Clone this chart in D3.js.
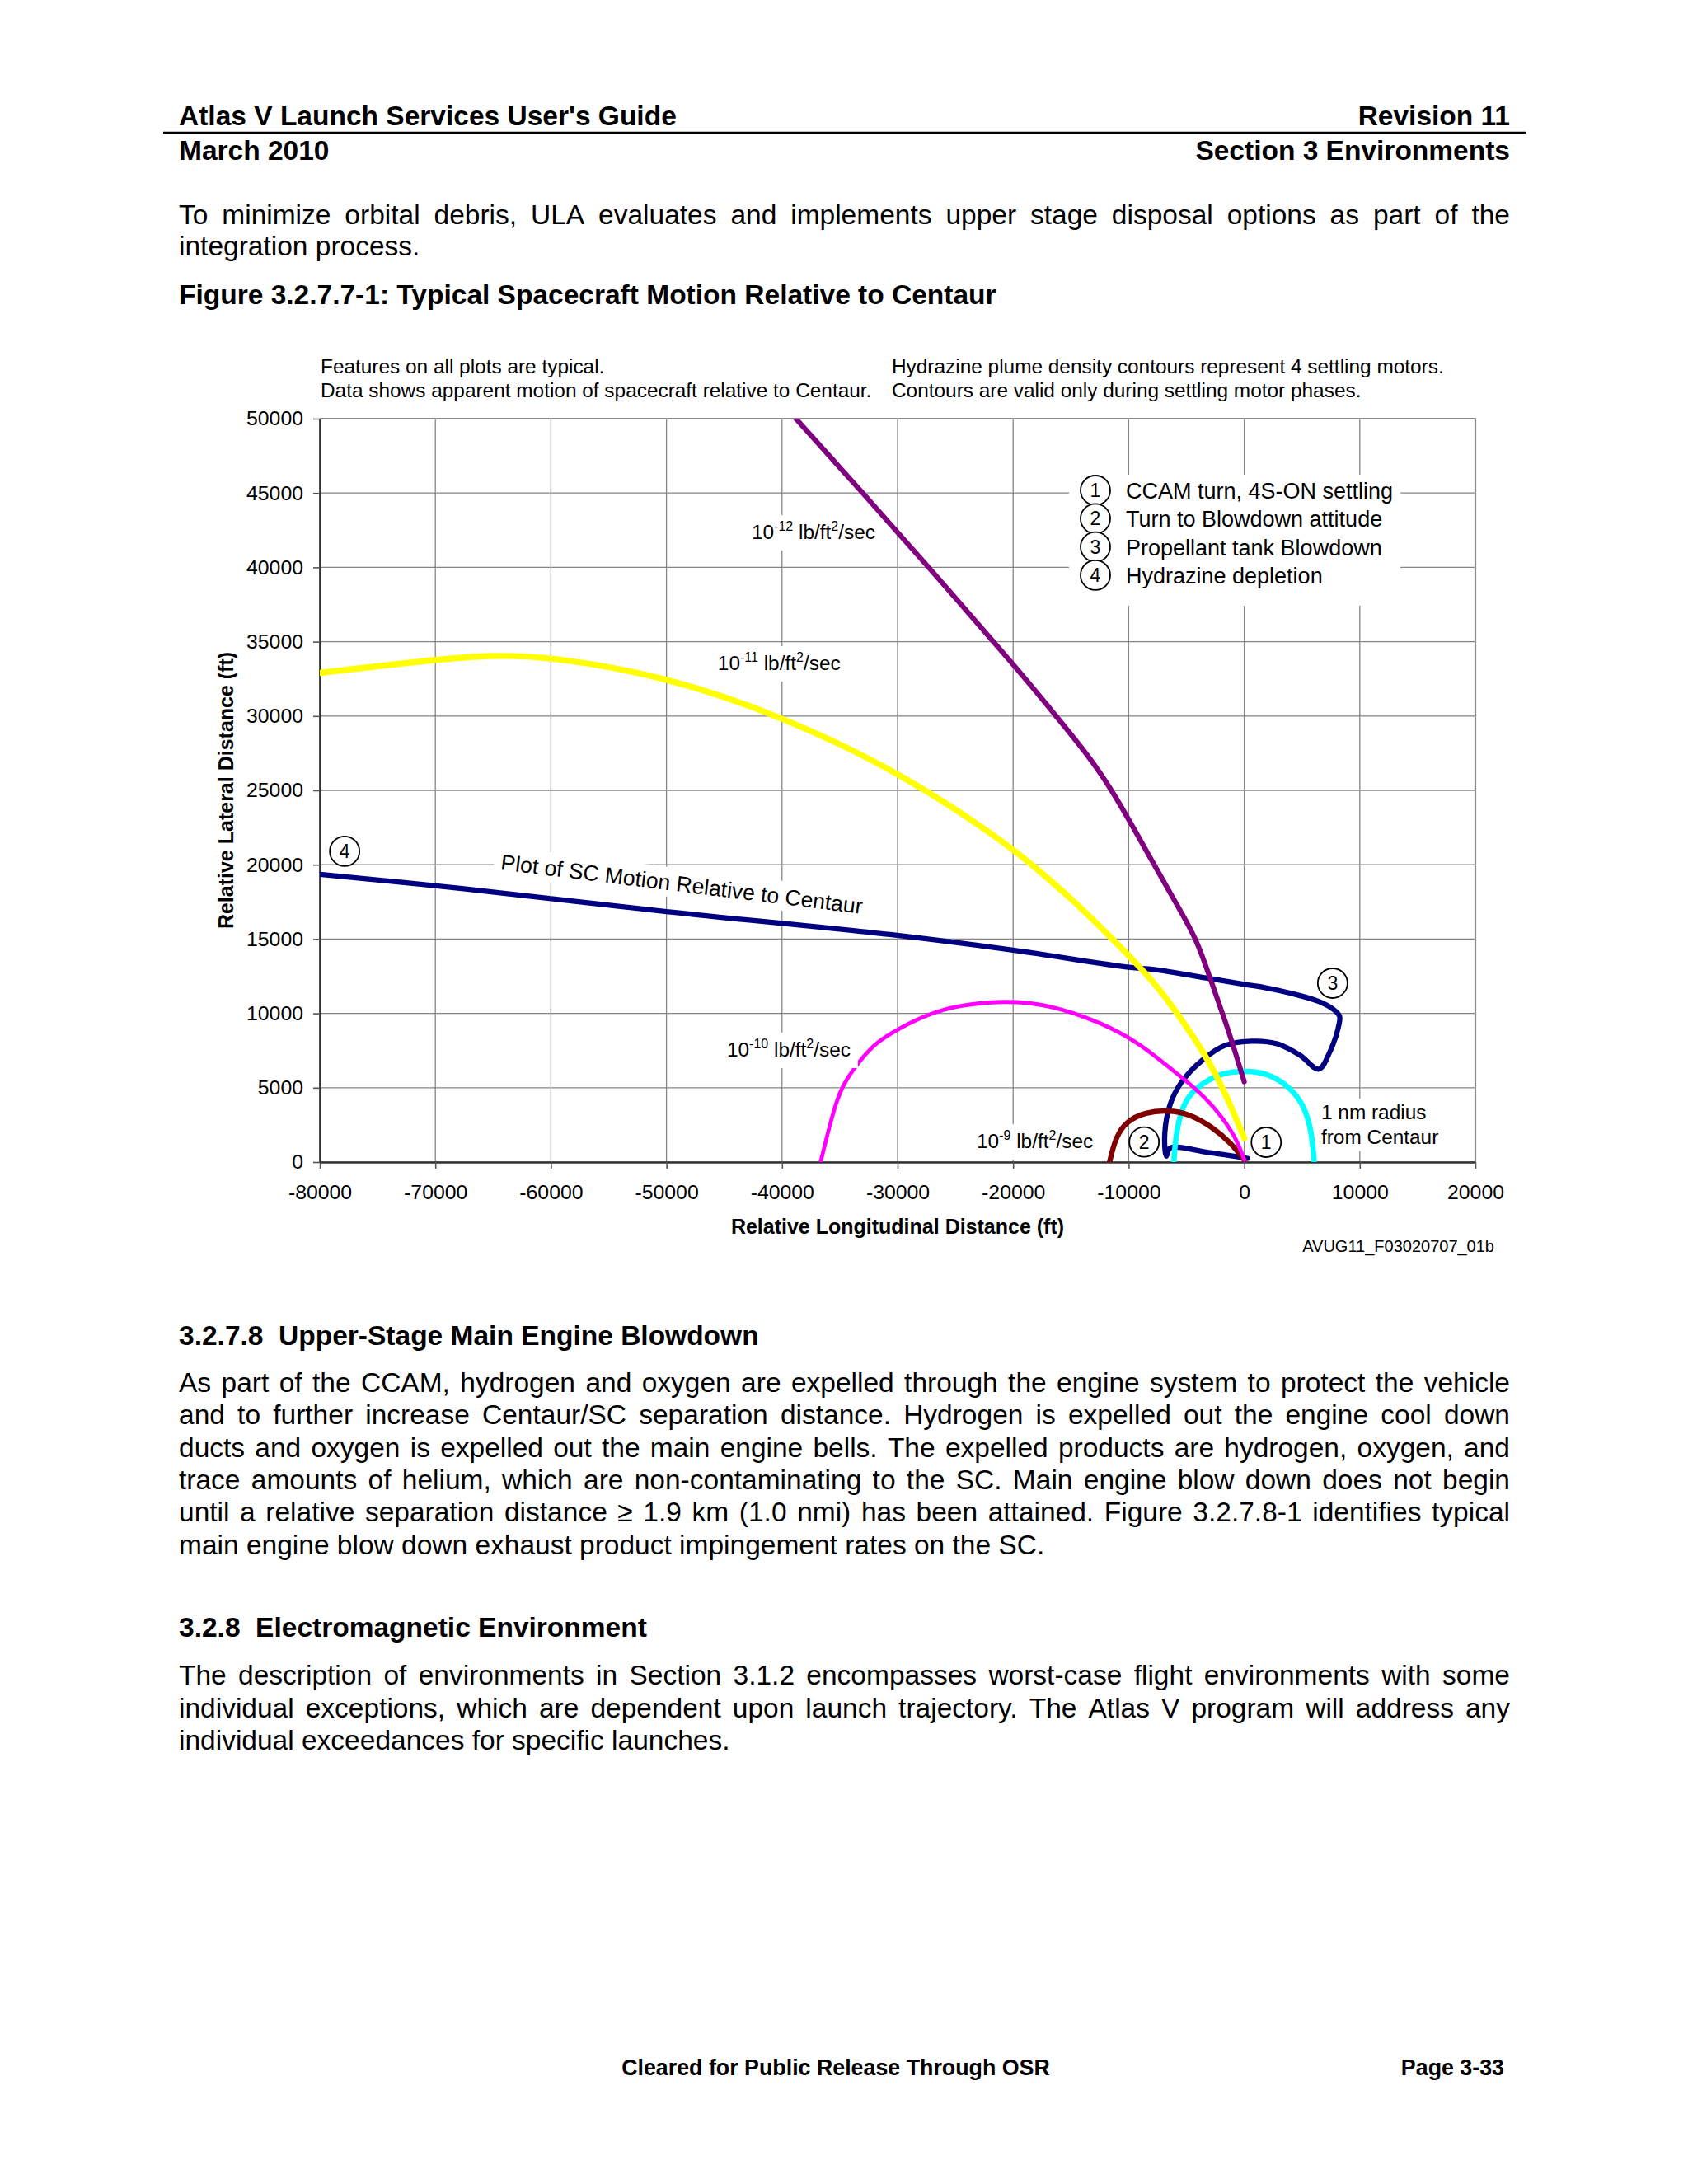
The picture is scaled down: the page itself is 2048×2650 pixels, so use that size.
<!DOCTYPE html>
<html>
<head>
<meta charset="utf-8">
<script src="https://cdn.jsdelivr.net/npm/d3@7"></script>
<style>
  body { margin: 0; background: #fff; }
  svg text { font-family: "Liberation Sans", Arial, sans-serif; fill: #000; }
</style>
</head>
<body>
<svg id="page" width="2048" height="2650"></svg>
<script>
// ---- chart data (ft) ----
const xTicks = [-80000, -70000, -60000, -50000, -40000, -30000, -20000, -10000, 0, 10000, 20000];
const yTicks = [0, 5000, 10000, 15000, 20000, 25000, 30000, 35000, 40000, 45000, 50000];

// 10^-12 lb/ft2/sec contour (purple)
const contour12 = [[-38800, 50000], [-33000, 45000], [-27300, 40000], [-19100, 32700],
  [-16400, 30100], [-13500, 27350], [-11400, 25000], [-7800, 20000], [-5900, 17400],
  [-4100, 15000], [-2800, 12000], [-1600, 9400], [-700, 7200], [0, 5400]];

// 10^-11 lb/ft2/sec contour (yellow)
const contour11 = [[-80000, 32900], [-70000, 33800], [-65300, 34100], [-60000, 34000], [-50000, 32650],
  [-40000, 30000], [-29500, 26100], [-20700, 21500], [-18300, 19950], [-14700, 17550],
  [-11600, 15150], [-9500, 13500], [-7350, 11650], [-5900, 10100], [-3300, 7200], [-1400, 4250], [0, 1600]];

// 10^-10 lb/ft2/sec contour (magenta)
const contour10 = [[-36660, 0], [-35900, 2400], [-35150, 4450], [-34450, 5550], [-33250, 6850],
  [-31850, 8050], [-29950, 8950], [-27550, 9900], [-24700, 10550], [-20900, 10850], [-17100, 10650],
  [-12350, 9400], [-9000, 7950], [-6650, 6450], [-4250, 5000], [-2350, 3500], [-700, 1650], [0, 150]];

// 10^-9 lb/ft2/sec contour (dark red)
const contour9 = [[-11650, 0], [-11150, 1650], [-10200, 2750], [-8550, 3350], [-6650, 3500],
  [-4750, 3250], [-2850, 2400], [-1150, 1300], [0, 150]];

// 1 nm radius from Centaur (cyan)
const nmRadius = [[-6100, 0], [-5900, 2050], [-5200, 4250], [-3550, 5350], [-1900, 6000], [0, 6150],
  [1950, 6000], [3800, 5150], [5150, 3900], [5850, 2050], [6050, 0]];

// SC motion relative to Centaur (navy)
const scMotion = [[300, 250], [-3100, 650], [-6400, 950], [-6750, 400], [-6870, 2000], [-6400, 3900],
  [-5450, 5350], [-3550, 6900], [-1650, 7850], [700, 8130], [2850, 7950], [4800, 7200], [6450, 6250],
  [7400, 7400], [8200, 9250], [8250, 9800], [7750, 10250], [6450, 10800], [4050, 11350], [1700, 11750],
  [0, 11950], [-3050, 12350], [-7800, 12950], [-10000, 13100], [-20000, 14250], [-30650, 15300],
  [-50000, 16850], [-67700, 18400], [-80000, 19350]];

// phase markers on the motion plot
const phaseMarks = [["1", 1900, 1330], ["2", -8660, 1350], ["3", 7650, 12030], ["4", -77850, 20900]];
const legendItems = ["CCAM turn, 4S-ON settling", "Turn to Blowdown attitude", "Propellant tank Blowdown", "Hydrazine depletion"];

// contour labels: [exponent, x, y]
const contourLabels = [["-12", -42630, 41910], ["-11", -45560, 33090], ["-10", -44770, 7100], ["-9", -23150, 940]];

// ---- page text ----
const para1 = [
  "To minimize orbital debris, ULA evaluates and implements upper stage disposal options as part of the",
  "integration process."];
const para2 = [
  "As part of the CCAM, hydrogen and oxygen are expelled through the engine system to protect the vehicle",
  "and to further increase Centaur/SC separation distance. Hydrogen is expelled out the engine cool down",
  "ducts and oxygen is expelled out the main engine bells. The expelled products are hydrogen, oxygen, and",
  "trace amounts of helium, which are non-contaminating to the SC. Main engine blow down does not begin",
  "until a relative separation distance \u2265 1.9 km (1.0 nmi) has been attained. Figure 3.2.7.8-1 identifies typical",
  "main engine blow down exhaust product impingement rates on the SC."];
const para3 = [
  "The description of environments in Section 3.1.2 encompasses worst-case flight environments with some",
  "individual exceptions, which are dependent upon launch trajectory. The Atlas V program will address any",
  "individual exceedances for specific launches."];

const svg = d3.select("#page");
const textL = 217, textR = 1832;
const bodySize = 33.5;

function plainText(str, x, y, size, weight, anchor) {
  return svg.append("text")
    .attr("x", x).attr("y", y)
    .attr("text-anchor", anchor || "start")
    .style("font-size", size + "px")
    .style("font-weight", weight || "normal")
    .style("white-space", "pre")
    .text(str);
}

// justified paragraph, last line flush left
function paragraph(lines, y0, lead) {
  lines.forEach((str, li) => {
    const y = y0 + li * lead;
    if (li === lines.length - 1) { plainText(str, textL, y, bodySize); return; }
    const words = str.split(" ");
    const t = svg.append("text").attr("y", y).style("font-size", bodySize + "px");
    const spans = words.map(w => t.append("tspan").text(w));
    const widths = spans.map(s => s.node().getComputedTextLength());
    const gap = (textR - textL - d3.sum(widths)) / (words.length - 1);
    let cx = textL;
    spans.forEach((s, i) => { s.attr("x", cx); cx += widths[i] + gap; });
  });
}

// header
plainText("Atlas V Launch Services User's Guide", textL, 152.3, bodySize, "bold");
plainText("Revision 11", textR, 152.3, bodySize, "bold", "end");
svg.append("line").attr("x1", 198).attr("x2", 1851).attr("y1", 161).attr("y2", 161)
  .attr("stroke", "#000").attr("stroke-width", 2.5);
plainText("March 2010", textL, 194, bodySize, "bold");
plainText("Section 3 Environments", textR, 194, bodySize, "bold", "end");

paragraph(para1, 271.5, 38.5);
plainText("Figure 3.2.7.7-1: Typical Spacecraft Motion Relative to Centaur", textL, 369.3, bodySize, "bold");

// ---- chart ----
const small = 24.4;
const margin = { left: 388, right: 1790, top: 508, bottom: 1410 };

plainText("Features on all plots are typical.", 389, 452.7, small);
plainText("Data shows apparent motion of spacecraft relative to Centaur.", 389, 481.7, small);
plainText("Hydrazine plume density contours represent 4 settling motors.", 1082, 452.7, small);
plainText("Contours are valid only during settling motor phases.", 1082, 481.7, small);

const x = d3.scaleLinear().domain([-80000, 20000]).range([margin.left, margin.right]);
const y = d3.scaleLinear().domain([0, 50000]).range([margin.bottom, margin.top]);

// grid
const grid = svg.append("g").attr("stroke", "#858585").attr("stroke-width", 1.3);
grid.selectAll(".vx").data(xTicks).join("line")
  .attr("x1", d => x(d)).attr("x2", d => x(d)).attr("y1", y(0)).attr("y2", y(50000));
grid.selectAll(".hy").data(yTicks).join("line")
  .attr("y1", d => y(d)).attr("y2", d => y(d)).attr("x1", x(-80000)).attr("x2", x(20000));

// top / right frame
svg.append("path")
  .attr("d", `M${x(-80000)},${y(50000)}H${x(20000)}V${y(0)}`)
  .attr("fill", "none").attr("stroke", "#8a8a8a").attr("stroke-width", 2.2);

// axes
const xAxis = svg.append("g").attr("transform", `translate(0,${y(0)})`)
  .call(d3.axisBottom(x).tickValues(xTicks).tickSize(8).tickSizeOuter(0).tickPadding(19).tickFormat(d3.format("d")));
const yAxis = svg.append("g").attr("transform", `translate(${x(-80000)},0)`)
  .call(d3.axisLeft(y).tickValues(yTicks).tickSize(8).tickSizeOuter(0).tickPadding(12).tickFormat(d3.format("d")));
[xAxis, yAxis].forEach(a => {
  a.select(".domain").attr("stroke", "#333").attr("stroke-width", 2.6);
  a.selectAll(".tick line").attr("stroke", "#555").attr("stroke-width", 1.6);
  a.selectAll(".tick text").style("font-size", "24.8px")
    .style("font-family", '"Liberation Sans", Arial, sans-serif').attr("fill", "#000");
});
xAxis.selectAll(".tick text").text(d => d3.format("d")(d).replace("\u2212", "-"));
yAxis.selectAll(".tick text").text(d => d3.format("d")(d));

plainText("Relative Longitudinal Distance (ft)", (margin.left + margin.right) / 2, 1497, 25, "bold", "middle");
svg.append("text")
  .attr("transform", `translate(283,${(margin.top + margin.bottom) / 2}) rotate(-90)`)
  .attr("text-anchor", "middle").style("font-size", "25px").style("font-weight", "bold")
  .text("Relative Lateral Distance (ft)");
plainText("AVUG11_F03020707_01b", 1813, 1519, 20, "normal", "end");

// curves
svg.append("clipPath").attr("id", "plotClip").append("rect")
  .attr("x", margin.left).attr("y", margin.top)
  .attr("width", margin.right - margin.left).attr("height", margin.bottom - margin.top);

// contours are smooth density isolines; the motion plot keeps its corners
const smooth = d3.line().x(d => x(d[0])).y(d => y(d[1])).curve(d3.curveBasis);
const track = d3.line().x(d => x(d[0])).y(d => y(d[1])).curve(d3.curveCatmullRom.alpha(0.5));
const series = [
  { pts: scMotion, color: "#000080", w: 6.3, gen: track },
  { pts: nmRadius, color: "#00FFFF", w: 6.6, gen: smooth },
  { pts: contour9, color: "#800000", w: 6.4, gen: smooth },
  { pts: contour10, color: "#FF00FF", w: 4.8, gen: smooth },
  { pts: contour11, color: "#FFFF00", w: 7.4, gen: smooth },
  { pts: contour12, color: "#800080", w: 6.2, gen: smooth }
];
svg.append("g").attr("clip-path", "url(#plotClip)")
  .selectAll("path").data(series).join("path")
  .attr("d", d => d.gen(d.pts))
  .attr("fill", "none")
  .attr("stroke", d => d.color)
  .attr("stroke-width", d => d.w)
  .attr("stroke-linecap", "round")
  .attr("stroke-linejoin", "round");

// label with white background box
function boxedLabel(g, build, pad, size) {
  const t = g.append("text").style("font-size", (size || small) + "px");
  build(t);
  const b = t.node().getBBox();
  g.insert("rect", "text")
    .attr("x", b.x - pad[0]).attr("y", b.y - pad[1])
    .attr("width", b.width + pad[0] + pad[2]).attr("height", b.height + pad[1] + pad[3])
    .attr("fill", "#fff");
  return t;
}

contourLabels.forEach(([ex, lx, ly]) => {
  const g = svg.append("g").attr("transform", `translate(${x(lx)},${y(ly)})`);
  boxedLabel(g, t => {
    t.append("tspan").text("10");
    t.append("tspan").attr("dy", -10).style("font-size", "16px").text(ex);
    t.append("tspan").attr("dy", 10).text(" lb/ft");
    t.append("tspan").attr("dy", -10).style("font-size", "16px").text("2");
    t.append("tspan").attr("dy", 10).text("/sec");
  }, [7, 5, ex === "-10" ? 9 : 4, 9]);
});

// motion plot label, rotated along the line
const scLab = svg.append("g").attr("transform", `translate(${x(-64390)},${y(19680)}) rotate(7)`);
boxedLabel(scLab, t => t.text("Plot of SC Motion Relative to Centaur"), [8, 4, 8, 2], 26.6);

// 1 nm label
const nmLab = svg.append("g").attr("transform", `translate(${x(6660)},${y(2880)})`);
boxedLabel(nmLab, t => {
  t.append("tspan").attr("x", 0).text("1 nm radius");
  t.append("tspan").attr("x", 0).attr("dy", 29.5).text("from Centaur");
}, [5, 3, 6, 4]);

// numbered markers
function marker(g, cx, cy, label) {
  g.append("circle").attr("cx", cx).attr("cy", cy).attr("r", 18)
    .attr("fill", "#fff").attr("stroke", "#000").attr("stroke-width", 1.8);
  g.append("text").attr("x", cx).attr("y", cy + 8).attr("text-anchor", "middle")
    .style("font-size", "23px").text(label);
}
const marks = svg.append("g");
phaseMarks.forEach(([n, mx, my]) => marker(marks, x(mx), y(my), n));

// legend
const lg = svg.append("g").attr("transform", `translate(${margin.left + 909},${margin.top + 68})`);
lg.append("rect").attr("width", 402).attr("height", 159).attr("fill", "#fff");
legendItems.forEach((txt, i) => {
  const cy = 19 + i * 34.3;
  marker(lg, 32, cy, String(i + 1));
  lg.append("text").attr("x", 69).attr("y", cy + 10).style("font-size", "27px").text(txt);
});

// ---- following sections ----
plainText("3.2.7.8  Upper-Stage Main Engine Blowdown", textL, 1632, bodySize, "bold");
paragraph(para2, 1689, 39.3);
plainText("3.2.8  Electromagnetic Environment", textL, 1985.5, bodySize, "bold");
paragraph(para3, 2044.3, 39.3);

// footer
plainText("Cleared for Public Release Through OSR", 1014, 2518, 26.8, "bold", "middle");
plainText("Page 3-33", 1825, 2518, 26.8, "bold", "end");
</script>
</body>
</html>
